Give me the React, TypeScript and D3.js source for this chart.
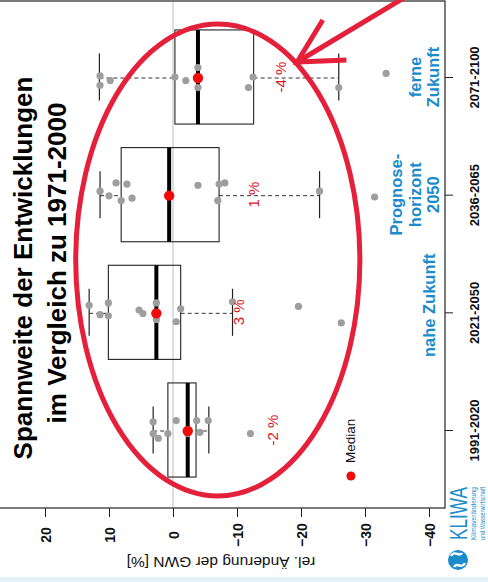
import React, { useEffect, useRef } from "react";
import * as d3 from "d3";

// periods, top to bottom as drawn
const periods = ["2071-2100", "2036-2065", "2021-2050", "1991-2020"];
const periodNames = [["ferne", "Zukunft"], ["Prognose-", "horizont", "2050"], ["nahe Zukunft"], []];

// box statistics, rel. change of GWN [%]
const whiskerHigh = [11.5, 11.4, 13.1, 3.1];
const q3 = [-0.3, 8.1, 10.1, 0.8];
const median = [-3.9, 0.6, 2.6, -2.3];
const q1 = [-12.6, -7.2, -1.2, -3.6];
const whiskerLow = [-25.9, -22.9, -9.3, -5.6];
const medianLabels = ["-4 %", "1 %", "3 %", "-2 %"];
const medianLabelAt = [-16.8, -12.5, -10.3, -15.6];

// single model results per period; jitter = offset within the row
const runs2071 = [11.4, 11.4, 9.8, -0.3, -2.0, -3.9, -3.9, -12.5, -11.8, -25.9, -33.3];
const jitter2071 = [-0.01, 0.07, 0.03, 0, 0.03, -0.08, 0.09, 0, 0.09, 0.09, -0.03];
const runs2036 = [11.4, 10.0, 8.9, 7.2, 8.1, 6.4, -3.9, -7.2, -8.1, -7.0, -22.9, -31.5];
const jitter2036 = [-0.03, 0.01, -0.1, -0.09, 0.05, 0.03, -0.08, -0.09, -0.1, 0.05, -0.03, 0.02];
const runs2021 = [13.1, 11.4, 10.1, 10.1, 5.3, 4.7, 2.6, 2.6, -1.2, -0.5, -9.3, -19.6, -26.3];
const jitter2021 = [-0.06, 0.02, -0.08, 0.03, -0.02, 0.01, -0.08, 0.06, -0.03, 0.08, -0.09, -0.05, 0.09];
const runs1991 = [3.1, 3.1, 2.3, 0.8, -0.5, -2.3, -3.7, -4.2, -5.5, -12.1];
const jitter1991 = [-0.07, 0.03, 0.07, 0.03, -0.08, 0.03, -0.08, 0.02, -0.08, 0.03];
const runs = [runs2071, runs2036, runs2021, runs1991];
const jitters = [jitter2071, jitter2036, jitter2021, jitter1991];

const xTicks = [20, 10, 0, -10, -20, -30, -40];

const RED = "#e5203a";
const BLUE = "#1b8ccb";

const App = () => {
  const svgRef = useRef(null);

  useEffect(() => {
    const W = 488;
    const H = 582;
    const svg = d3.select(svgRef.current).attr("width", W).attr("height", H);
    svg.selectAll("*").remove();

    const font = "Liberation Sans, Arial, sans-serif";
    const frame = { left: -5, right: 445, top: 1, bottom: 508 };

    const x = d3.scaleLinear().domain([20, -40]).range([45, 429]);
    const y = d3.scalePoint().domain(periods).range([77, 430]);
    const step = y.step();
    const boxH = step * 0.8;
    const capH = step * 0.4;

    svg.append("rect").attr("x", 0).attr("y", 577).attr("width", W).attr("height", 5).attr("fill", "#e6f2fa");

    // zero line
    svg.append("line")
      .attr("x1", x(0)).attr("x2", x(0))
      .attr("y1", frame.top).attr("y2", frame.bottom)
      .attr("stroke", "#bdbdbd").attr("stroke-width", 1);

    // frame
    svg.append("rect")
      .attr("x", frame.left).attr("y", frame.top)
      .attr("width", frame.right - frame.left).attr("height", frame.bottom - frame.top)
      .attr("fill", "none").attr("stroke", "#222").attr("stroke-width", 1.2);

    // bottom axis (values)
    const xAxis = svg.append("g")
      .attr("transform", `translate(0,${frame.bottom})`)
      .call(d3.axisBottom(x).tickValues(xTicks).tickSize(9).tickFormat(d3.format("d")));
    xAxis.select(".domain").remove();
    xAxis.selectAll("line").attr("stroke", "#222");
    xAxis.selectAll("text")
      .attr("y", 0).attr("dy", 0)
      .attr("transform", "translate(0,27) rotate(-90)")
      .attr("text-anchor", "middle")
      .attr("dominant-baseline", "central")
      .attr("font-family", font).attr("font-weight", "bold").attr("font-size", 14).attr("fill", "#111");

    svg.append("text")
      .attr("transform", `translate(${x(-7.5)},562) rotate(180)`)
      .attr("text-anchor", "middle").attr("dominant-baseline", "central")
      .attr("font-family", font).attr("font-size", 15.5).attr("fill", "#111")
      .text("rel. Änderung der GWN [%]");

    // right axis (periods)
    const yAxis = svg.append("g")
      .attr("transform", `translate(${frame.right},0)`)
      .call(d3.axisRight(y).tickSize(8));
    yAxis.select(".domain").remove();
    yAxis.selectAll("line").attr("stroke", "#222");
    yAxis.selectAll("text")
      .attr("x", 0).attr("dy", 0)
      .attr("transform", "translate(29,0) rotate(-90)")
      .attr("text-anchor", "middle").attr("dominant-baseline", "central")
      .attr("font-family", font).attr("font-weight", "bold").attr("font-size", 13).attr("fill", "#111");

    // period names in blue
    periods.forEach((p, i) => {
      const lines = periodNames[i];
      const lineX = [402, 421, 439];
      const first = lines.length === 1 ? 2 : 3 - lines.length;
      lines.forEach((t, j) => {
        svg.append("text")
          .attr("transform", `translate(${lineX[first + j] - (lines.length === 1 ? 4 : 0)},${y(p) - (lines.length === 1 ? 7 : 0)}) rotate(-90)`)
          .attr("text-anchor", "middle")
          .attr("font-family", font).attr("font-weight", "bold").attr("font-size", 16.5)
          .attr("fill", BLUE)
          .text(t);
      });
    });

    // boxes
    const g = svg.append("g");
    periods.forEach((p, i) => {
      const cy = y(p);
      g.append("line")
        .attr("x1", x(whiskerHigh[i])).attr("x2", x(q3[i]))
        .attr("y1", cy + 1).attr("y2", cy + 1)
        .attr("stroke", "#333").attr("stroke-dasharray", "4,3");
      g.append("line")
        .attr("x1", x(q1[i])).attr("x2", x(whiskerLow[i]))
        .attr("y1", cy + 1).attr("y2", cy + 1)
        .attr("stroke", "#333").attr("stroke-dasharray", "4,3");
      [whiskerHigh[i], whiskerLow[i]].forEach((v) => {
        g.append("line")
          .attr("x1", x(v)).attr("x2", x(v))
          .attr("y1", cy - capH / 2).attr("y2", cy + capH / 2)
          .attr("stroke", "#222").attr("stroke-width", 1.2);
      });
      g.append("rect")
        .attr("x", x(q3[i])).attr("y", cy - boxH / 2)
        .attr("width", x(q1[i]) - x(q3[i])).attr("height", boxH)
        .attr("fill", "none").attr("stroke", "#222").attr("stroke-width", 1.1);
      g.append("line")
        .attr("x1", x(median[i])).attr("x2", x(median[i]))
        .attr("y1", cy - boxH / 2).attr("y2", cy + boxH / 2)
        .attr("stroke", "#000").attr("stroke-width", 4);

      g.selectAll(null)
        .data(runs[i])
        .join("circle")
        .attr("cx", (d) => x(d))
        .attr("cy", (_, k) => cy + jitters[i][k] * step)
        .attr("r", 3.6)
        .attr("fill", "#9e9e9e");

      g.append("circle")
        .attr("cx", x(median[i])).attr("cy", cy + 1)
        .attr("r", 5.2).attr("fill", "#f00a0a");

      g.append("text")
        .attr("transform", `translate(${x(medianLabelAt[i])},${cy}) rotate(-90)`)
        .attr("text-anchor", "middle").attr("dominant-baseline", "central")
        .attr("font-family", font).attr("font-size", 15).attr("fill", "#e0141e")
        .text(medianLabels[i]);
    });

    // legend
    svg.append("circle").attr("cx", x(-27.8)).attr("cy", 476).attr("r", 4.5).attr("fill", "#f00a0a");
    svg.append("text")
      .attr("transform", `translate(${x(-27.8)},463) rotate(-90)`)
      .attr("dominant-baseline", "central")
      .attr("font-family", font).attr("font-size", 13.5).attr("fill", "#111")
      .text("Median");

    // title
    svg.append("text")
      .attr("transform", "translate(32,268) rotate(-90)")
      .attr("text-anchor", "middle")
      .attr("font-family", font).attr("font-weight", "bold").attr("font-size", 26).attr("fill", "#000")
      .text("Spannweite der Entwicklungen");
    svg.append("text")
      .attr("transform", "translate(66,263) rotate(-90)")
      .attr("text-anchor", "middle")
      .attr("font-family", font).attr("font-weight", "bold").attr("font-size", 26).attr("fill", "#000")
      .text("im Vergleich zu 1971-2000");

    // red ellipse around the boxes
    const ell = { cx: -7, rx: 22.2 };
    svg.append("ellipse")
      .attr("cx", x(ell.cx)).attr("cy", 260)
      .attr("rx", x(0) - x(ell.rx)).attr("ry", 236)
      .attr("fill", "none").attr("stroke", RED).attr("stroke-width", 5);

    // arrow
    const tip: [number, number] = [x(-19.4), 62];
    const arrow = d3.line();
    svg.append("path")
      .attr("d", arrow([[x(-36.3), -3], tip]))
      .attr("fill", "none").attr("stroke", RED).attr("stroke-width", 5);
    svg.append("path")
      .attr("d", arrow([[x(-23.4), 20], tip, [x(-27.1), 60]]))
      .attr("fill", "none").attr("stroke", RED).attr("stroke-width", 5)
      .attr("stroke-linejoin", "miter");

    // KLIWA logo
    svg.append("text")
      .attr("transform", "translate(467,540) rotate(-90)")
      .attr("font-family", font).attr("font-size", 23).attr("fill", BLUE)
      .attr("textLength", 53).attr("lengthAdjust", "spacingAndGlyphs")
      .text("KLIWA");
    svg.append("text")
      .attr("transform", "translate(476,540) rotate(-90)")
      .attr("font-family", font).attr("font-size", 7).attr("fill", BLUE)
      .attr("textLength", 53).attr("lengthAdjust", "spacingAndGlyphs")
      .text("Klimaveränderung");
    svg.append("text")
      .attr("transform", "translate(485,540) rotate(-90)")
      .attr("font-family", font).attr("font-size", 7).attr("fill", BLUE)
      .attr("textLength", 53).attr("lengthAdjust", "spacingAndGlyphs")
      .text("und Wasserwirtschaft");
    svg.append("circle").attr("cx", 458).attr("cy", 560).attr("r", 10).attr("fill", BLUE);
    svg.append("path")
      .attr("d", "M451,556 C455,549 459,558 462,553 M454,567 C457,561 461,570 465,563")
      .attr("fill", "none").attr("stroke", "#fff").attr("stroke-width", 2.4);

    return () => {
      svg.selectAll("*").remove();
    };
  }, []);

  return (
    <svg
      ref={svgRef}
      style={{ position: "absolute", left: 0, top: 0, background: "#fff" }}
    ></svg>
  );
};

export default App;
